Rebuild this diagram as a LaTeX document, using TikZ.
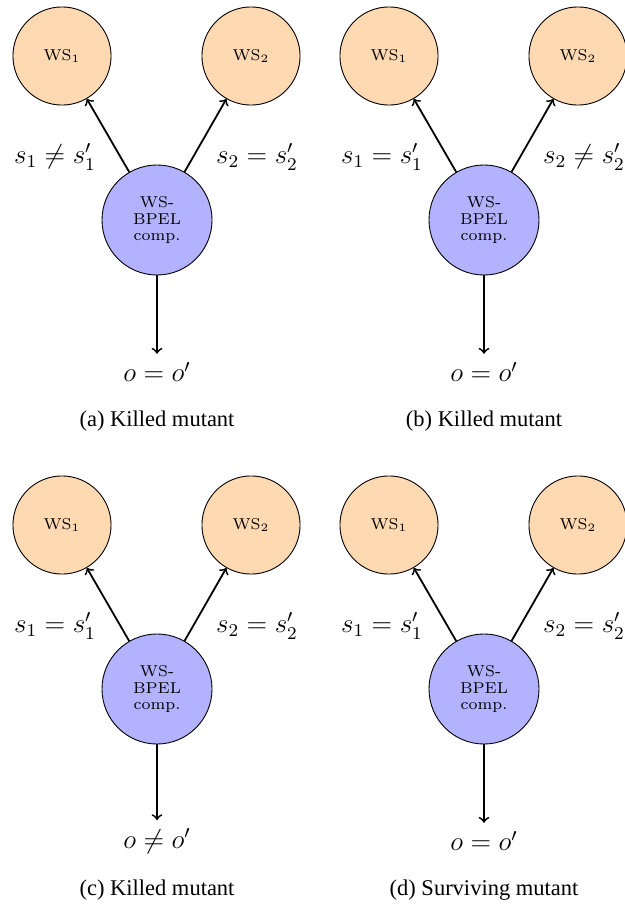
\documentclass[tikz,border=0pt]{standalone}
\usepackage{fontspec}
\newfontfamily\capfont{Liberation Serif}
\newcommand\mutpanel[7]{%
  \begin{scope}[shift={(#2,#3)}]
    \node[wsnode] (#1ws1) at (62,56) {WS$_1$};
    \node[wsnode] (#1ws2) at (251,56) {WS$_2$};
    \node[bpelnode] (#1bpel) at (157,220) {WS-\\BPEL\\comp.};
    \node[eqlabel] (#1l1) at (55,157) {#4};
    \node[eqlabel] (#1l2) at (257,157) {#5};
    \node[eqlabel] (#1out) at (157,372) {#6};
    \node[caplabel] (#1cap) at (157,421) {#7};
    \draw[flow] (#1bpel) -- (#1ws1);
    \draw[flow] (#1bpel) -- (#1ws2);
    \draw[flow,shorten >=2.5pt] (#1bpel) -- (#1out);
  \end{scope}}
\begin{document}
\begin{tikzpicture}[x=0.44444pt,y=-0.44444pt,
  wsnode/.style={circle,draw,thin,fill=orange!30,minimum size=43.6pt,inner sep=0pt,font=\fontsize{7}{7.2}\selectfont},
  bpelnode/.style={circle,draw,thin,fill=blue!30,minimum size=48.9pt,inner sep=0pt,font=\fontsize{7}{7.2}\selectfont,align=center},
  eqlabel/.style={font=\large,inner sep=1pt},
  caplabel/.style={font=\capfont},
  flow/.style={->,thick}]
  \useasboundingbox (0,0) rectangle (625,905);
  \mutpanel{a}{0}{0}{$s_1 \neq s_1'$}{$s_2 = s_2'$}{$o = o'$}{(a) Killed mutant}
  \mutpanel{b}{327}{0}{$s_1 = s_1'$}{$s_2 \neq s_2'$}{$o = o'$}{(b) Killed mutant}
  \mutpanel{c}{0}{469}{$s_1 = s_1'$}{$s_2 = s_2'$}{$o \neq o'$}{(c) Killed mutant}
  \mutpanel{d}{327}{469}{$s_1 = s_1'$}{$s_2 = s_2'$}{$o = o'$}{(d) Surviving mutant}
\end{tikzpicture}
\end{document}
